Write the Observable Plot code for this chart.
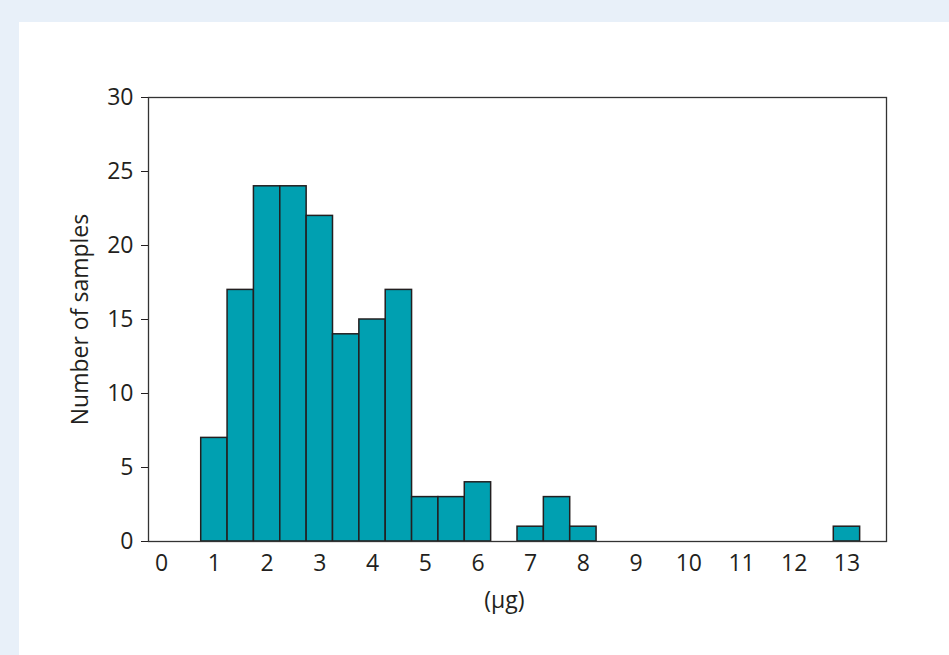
<!DOCTYPE html>
<html>
<head>
<meta charset="utf-8">
<script src="https://cdn.jsdelivr.net/npm/d3@7"></script>
<script src="https://cdn.jsdelivr.net/npm/@observablehq/plot@0.6"></script>
<style>
  html, body { margin: 0; padding: 0; background: #e8f0f9; }
  #panel { position: absolute; left: 19px; top: 22px; width: 930px; height: 633px; background: #ffffff; }
  svg { font-family: "Open Sans", "Noto Sans", sans-serif; }
</style>
</head>
<body>
<div id="panel"></div>
<script>
// Bin lower edges (µg), bin width 0.5, and counts
const binStart = [0.75, 1.25, 1.75, 2.25, 2.75, 3.25, 3.75, 4.25, 4.75, 5.25, 5.75, 6.75, 7.25, 7.75, 12.75];
const counts   = [7,    17,   24,   24,   22,   14,   15,   17,   3,    3,    4,    1,    3,    1,    1];
const binWidth = 0.5;
const xTicks = [0,1,2,3,4,5,6,7,8,9,10,11,12,13];
const yTicks = [0,5,10,15,20,25,30];

const data = binStart.map((s, i) => ({x1: s, x2: s + binWidth, count: counts[i]}));

const chart = Plot.plot({
  width: 930,
  height: 633,
  marginLeft: 129,
  marginTop: 75,
  marginRight: 63,
  marginBottom: 114,
  style: {fontSize: "23px", color: "#231f20", background: "white", fontFamily: "'Open Sans', 'Noto Sans', sans-serif"},
  x: {domain: [-0.25, 13.75], ticks: xTicks, tickSize: 0, tickPadding: 14, label: null},
  y: {domain: [0, 30], ticks: yTicks, tickSize: 7, tickPadding: 8, label: null},
  marks: [
    Plot.rect(data, {x1: "x1", x2: "x2", y1: 0, y2: "count", fill: "#00a0b1", stroke: "#231f20", strokeWidth: 1.5}),
    Plot.frame({stroke: "#333", strokeWidth: 1.3}),
    Plot.axisX({ticks: xTicks, tickSize: 0, tickPadding: 13, label: null, fontSize: 23}),
    Plot.axisY({ticks: yTicks, tickSize: 7, tickPadding: 8, label: null, fontSize: 23}),
    Plot.text(["(μg)"], {x: 6.5, frameAnchor: "bottom", dy: 66, fontSize: 23, fill: "#231f20"}),
    Plot.text(["Number of samples"], {frameAnchor: "left", textAnchor: "middle", dx: -68, rotate: -90, fontSize: 23, fill: "#231f20"})
  ]
});
document.getElementById("panel").appendChild(chart);
</script>
</body>
</html>
